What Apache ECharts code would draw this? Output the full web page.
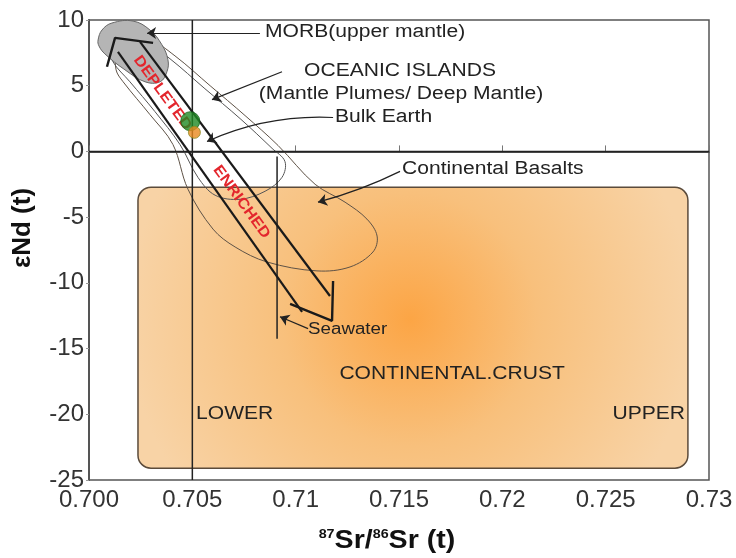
<!DOCTYPE html>
<html><head><meta charset="utf-8">
<script src="https://cdn.jsdelivr.net/npm/echarts@6/dist/echarts.min.js"></script>
<style>html,body{margin:0;padding:0;background:#fff}#c{width:736px;height:558px}</style>
</head><body><div id="c"></div>
<script>
// ---------- data (in data units) ----------
const xTickLabels = ['0.700', '0.705', '0.71', '0.715', '0.72', '0.725', '0.73'];
const yTickLabels = ['-25', '-20', '-15', '-10', '-5', '0', '5', '10'];

// continental crust box: [x0, yTop], [x1, yBottom]
const crustBox = [[0.70237, -2.73], [0.72898, -24.1]];

// MORB field outline
const morbOutline = [
  [0.70044, 8.48], [0.70063, 9.24], [0.70111, 9.77], [0.70213, 9.92], [0.70295, 9.24],
  [0.70353, 8.11], [0.70382, 6.97], [0.70377, 6.06], [0.70344, 5.30], [0.70271, 5.30],
  [0.70174, 6.21], [0.70077, 7.42], [0.70048, 8.03]
];
// Oceanic islands outline
const oceanicIslandsOutline = [
  [0.70116, 6.82], [0.70198, 5.30], [0.70319, 3.03], [0.70440, 0.53], [0.70527, -1.97],
  [0.70610, -3.33], [0.70731, -3.64], [0.70852, -3.03], [0.70934, -1.97], [0.70948, -0.76],
  [0.70886, 0.23], [0.70731, 2.50], [0.70561, 4.77], [0.70392, 7.05], [0.70285, 8.18],
  [0.70174, 8.33], [0.70111, 7.73]
];
// Continental basalts outline
const continentalBasaltsOutline = [
  [0.70131, 6.21], [0.70165, 5.30], [0.70295, 2.80], [0.70406, 0.53], [0.70479, -2.88],
  [0.70600, -5.91], [0.70707, -7.27], [0.70861, -8.41], [0.71103, -9.09], [0.71263, -8.79],
  [0.71374, -7.65], [0.71394, -6.44], [0.71345, -5.15], [0.71239, -3.86], [0.71094, -2.50],
  [0.70915, 0.45], [0.70755, 2.73], [0.70586, 5.00], [0.70416, 7.27], [0.70295, 8.48],
  [0.70189, 8.48], [0.70135, 7.58]
];

// depleted / enriched trend band (thick lines)
const bandLeft = [[0.70140, 7.58], [0.71031, -12.21]];
const bandRight = [[0.70247, 8.33], [0.71166, -11.0]];
const arrowTop = [[0.70087, 6.44], [0.70126, 8.64], [0.70310, 8.26]];
const arrowBottom = [[0.71181, -9.86], [0.71176, -12.89], [0.70973, -11.6]];
const seawaterLine = [[0.7091, -0.38], [0.7091, -14.26]];
const refHorizontal = [[0.700, 0], [0.730, 0]];
const refVertical = [[0.705, -25], [0.705, 10]];

// bulk earth
const bulkEarthGreen = [0.7049, 2.3];
const bulkEarthOrange = [0.7051, 1.45];

// annotation texts and anchors
const labelTexts = ['MORB(upper mantle)', 'OCEANIC ISLANDS', '(Mantle Plumes/ Deep Mantle)', 'Bulk Earth',
  'Continental Basalts', 'Seawater', 'CONTINENTAL.CRUST', 'LOWER', 'UPPER'];
const labelAnchors = [[0.70852, 9.09], [0.71505, 6.14], [0.71510, 4.39], [0.71190, 2.58],
  [0.71515, -1.36], [0.71060, -13.56], [0.71757, -16.97], [0.70518, -20.0], [0.72884, -20.0]];

const trendTexts = ['DEPLETED', 'ENRICHED'];
const trendAnchors = [[0.70355, 4.45], [0.70738, -3.85]];

// leader lines with arrow heads: [from, to]
const leaders = [
  [[0.70827, 9.02], [0.70281, 9.02]],
  [[0.70934, 6.06], [0.70595, 3.94]],
  [[0.71181, 2.58], [0.70571, 0.76]],
  [[0.71505, -1.52], [0.71108, -3.86]],
  [[0.71060, -13.48], [0.70924, -12.58]]
];

// ---------- styles ----------
const labelAlign = ['left', 'center', 'center', 'left', 'left', 'left', 'center', 'left', 'right'];
const labelSize = [18, 18, 18, 18, 18, 16, 18, 18, 18];
const leaderCurve = [0, 0, -0.12, 0.05, 0];
const FONT = '"Liberation Sans", Arial, sans-serif';

const chart = echarts.init(document.getElementById('c'), null, {renderer: 'canvas'});

function polySeries(points, style, closed, smooth) {
  return {
    type: 'custom', data: points, encode: {x: 0, y: 1}, silent: true,
    renderItem: function (params, api) {
      if (params.dataIndex !== 0) return null;
      const pts = points.map(p => api.coord(p));
      return {type: closed ? 'polygon' : 'polyline', shape: {points: pts, smooth: smooth || 0}, style: style};
    }
  };
}
function lineSeries(points, color, width) {
  return {type: 'line', data: points, showSymbol: false, silent: true, animation: false,
    lineStyle: {color: color, width: width}, z: 3};
}

const option = {
  animation: false,
  grid: {left: 89, right: 27, top: 20, bottom: 78, show: true, borderColor: '#555', borderWidth: 1.5},
  xAxis: {
    type: 'value', min: 0.700, max: 0.730, interval: 0.005,
    axisLine: {lineStyle: {color: '#555', width: 2}},
    axisTick: {inside: true, length: 6, lineStyle: {color: '#777'}},
    splitLine: {show: false},
    axisLabel: {
      fontSize: 24, color: '#333', fontFamily: FONT, margin: 8,
      formatter: v => xTickLabels[Math.round((v - 0.700) / 0.005)]
    }
  },
  yAxis: {
    type: 'value', min: -25, max: 10, interval: 5,
    axisLine: {lineStyle: {color: '#555', width: 2}},
    axisTick: {length: 3, lineStyle: {color: '#999'}},
    splitLine: {show: false},
    axisLabel: {
      fontSize: 24, color: '#333', fontFamily: FONT, margin: 5,
      formatter: v => yTickLabels[Math.round((v + 25) / 5)]
    }
  },
  graphic: [
    {type: 'text', x: 23, y: 228, rotation: Math.PI / 2,
      style: {text: 'εNd (t)', font: 'bold 26px ' + FONT, fill: '#111', align: 'center', verticalAlign: 'middle'}},
    {type: 'text', x: 387, y: 541, scaleX: 1.1,
      style: {text: '{s|87}{m|Sr/}{s|86}{m|Sr (t)}', align: 'center', verticalAlign: 'middle', fill: '#111',
        rich: {m: {fontSize: 26, fontWeight: 'bold', fontFamily: FONT, fill: '#111'},
               s: {fontSize: 13, fontWeight: 'bold', fontFamily: FONT, fill: '#111', verticalAlign: 'top'}}}}
  ],
  series: [
    // continental crust box
    {
      type: 'custom', data: [crustBox[0].concat(crustBox[1])], encode: {x: [0, 2], y: [1, 3]}, silent: true,
      renderItem: function (params, api) {
        const a = api.coord([api.value(0), api.value(1)]);
        const b = api.coord([api.value(2), api.value(3)]);
        return {type: 'rect', shape: {x: a[0], y: a[1], width: b[0] - a[0], height: b[1] - a[1], r: 13},
          style: {
            fill: new echarts.graphic.RadialGradient(0.495, 0.47, 1.0, [
              {offset: 0, color: '#fca545'}, {offset: 0.45, color: '#f8c07c'}, {offset: 1, color: '#f8d3a6'}]),
            stroke: '#5b4b3b', lineWidth: 1.5
          }};
      }
    },
    polySeries(continentalBasaltsOutline, {fill: 'none', stroke: '#5e5246', lineWidth: 1}, true, 0.35),
    polySeries(oceanicIslandsOutline, {fill: 'none', stroke: '#555', lineWidth: 1}, true, 0.35),
    polySeries(morbOutline, {fill: '#b5b5b5', stroke: '#666', lineWidth: 1}, true, 0.4),
    lineSeries(refHorizontal, '#222', 1.5),
    lineSeries(refVertical, '#222', 1.5),
    lineSeries(seawaterLine, '#222', 1.5),
    lineSeries(bandLeft, '#1a1a1a', 2.2),
    lineSeries(bandRight, '#1a1a1a', 2.2),
    lineSeries(arrowTop, '#1a1a1a', 2.4),
    lineSeries(arrowBottom, '#1a1a1a', 2.4),
    // trend texts
    {
      type: 'custom', data: trendAnchors, encode: {x: 0, y: 1}, silent: true, z: 4,
      renderItem: function (params, api) {
        const p = api.coord([api.value(0), api.value(1)]);
        return {type: 'text', x: p[0], y: p[1], rotation: -54 * Math.PI / 180, scaleX: 1.1,
          style: {text: trendTexts[params.dataIndex], fontSize: 15, fontWeight: 'bold', fontFamily: FONT,
            fill: '#e3262d', align: 'center', verticalAlign: 'middle'}};
      }
    },
    // bulk earth
    {type: 'scatter', data: [bulkEarthGreen], symbolSize: 19, z: 5, silent: true,
      itemStyle: {color: '#1f8a24', borderColor: '#17651b', borderWidth: 1}},
    {type: 'scatter', data: [bulkEarthOrange], symbolSize: 12, z: 5, silent: true,
      itemStyle: {color: '#e8891e', borderColor: '#8c8a22', borderWidth: 1}},
    // leaders
    {
      type: 'lines', coordinateSystem: 'cartesian2d', z: 6, silent: true,
      symbol: ['none', 'arrow'], symbolSize: 9,
      lineStyle: {color: '#222', width: 1.2, opacity: 1},
      data: leaders.map((c, i) => ({coords: c, lineStyle: {curveness: leaderCurve[i]}}))
    },
    // annotation texts
    {
      type: 'custom', data: labelAnchors, encode: {x: 0, y: 1}, silent: true, z: 6,
      renderItem: function (params, api) {
        const i = params.dataIndex;
        const p = api.coord([api.value(0), api.value(1)]);
        return {type: 'text', x: p[0], y: p[1], scaleX: 1.17,
          style: {text: labelTexts[i], fontSize: labelSize[i], fontFamily: FONT, fill: '#222',
            align: labelAlign[i], verticalAlign: 'middle'}};
      }
    }
  ]
};
chart.setOption(option);
</script></body></html>
